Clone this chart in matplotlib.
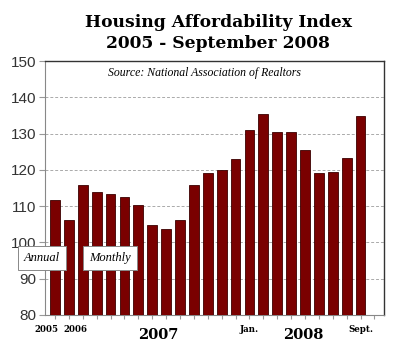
import matplotlib
matplotlib.use("Agg")
import matplotlib.pyplot as plt
import numpy as np

# Housing affordability index: 2005, 2006 annual, then monthly Jan 2007 - Sep 2008
values = [111.7, 106.1, 115.8, 114.0, 113.3, 112.4, 110.2, 104.9, 103.7, 106.2,
          115.7, 119.2, 120.0, 122.9, 131.1, 135.3, 130.5, 130.5, 125.6, 119.2,
          119.5, 123.2, 134.9]
n_slots = 24  # last slot stays empty
yticks = [80, 90, 100, 110, 120, 130, 140, 150]
small_labels = [(-0.62, "2005"), (1.5, "2006"), (14, "Jan."), (22, "Sept.")]
year_labels = [(7.4, "2007"), (17.9, "2008")]

fig = plt.figure(figsize=(4.0, 3.53), dpi=100)
ax = fig.add_axes([0.1125, 0.108, 0.848, 0.719])

x = np.arange(len(values))
ax.bar(x, np.array(values) - 80, bottom=80, width=0.7, color="#7a0000",
       edgecolor="#3a0000", linewidth=0.6, zorder=3)

ax.set_xlim(-0.72, n_slots - 0.3)
ax.set_ylim(80, 150)
ax.set_yticks(yticks)
ax.set_yticklabels([str(t) for t in yticks], fontfamily="Liberation Sans",
                   fontsize=11, color="#333333")
ax.set_xticks(np.arange(n_slots))
ax.set_xticklabels([])
ax.tick_params(axis="x", length=3, color="#999999")
ax.tick_params(axis="y", length=4, color="#999999", pad=2)
ax.yaxis.grid(True, linestyle=(0, (3, 2)), color="#aaaaaa", linewidth=0.7, zorder=0)

for s in ["left", "bottom"]:
    ax.spines[s].set_color("#888888")
for s in ["top", "right"]:
    ax.spines[s].set_color("#333333")
    ax.spines[s].set_linewidth(1.0)

tr = ax.get_xaxis_transform()
for pos, lab in small_labels:
    ax.text(pos, -0.04, lab, transform=tr, ha="center", va="top",
            fontfamily="DejaVu Serif", fontweight="bold", fontsize=6.2)
for pos, lab in year_labels:
    ax.text(pos, -0.05, lab, transform=tr, ha="center", va="top",
            fontfamily="DejaVu Serif", fontweight="bold", fontsize=10.5)

box = dict(boxstyle="square,pad=0.5", facecolor="white", edgecolor="#888888", linewidth=0.7)
ax.text(-0.94, 95.7, "Annual", ha="center", va="center", fontfamily="Liberation Serif",
        style="italic", fontsize=9, bbox=box, zorder=5, clip_on=False)
ax.text(3.96, 95.7, "Monthly", ha="center", va="center", fontfamily="Liberation Serif",
        style="italic", fontsize=9, bbox=box, zorder=5, clip_on=False)

ax.text(0.47, 0.975, "Source: National Association of Realtors", transform=ax.transAxes,
        ha="center", va="top", fontfamily="Liberation Serif", style="italic", fontsize=8.5)

fig.text(0.545, 0.935, "Housing Affordability Index", ha="center", va="center",
         fontfamily="DejaVu Serif", fontweight="bold", fontsize=12.3)
fig.text(0.545, 0.878, "2005 - September 2008", ha="center", va="center",
         fontfamily="DejaVu Serif", fontweight="bold", fontsize=12.3)

fig.savefig("out.png", dpi=100)
